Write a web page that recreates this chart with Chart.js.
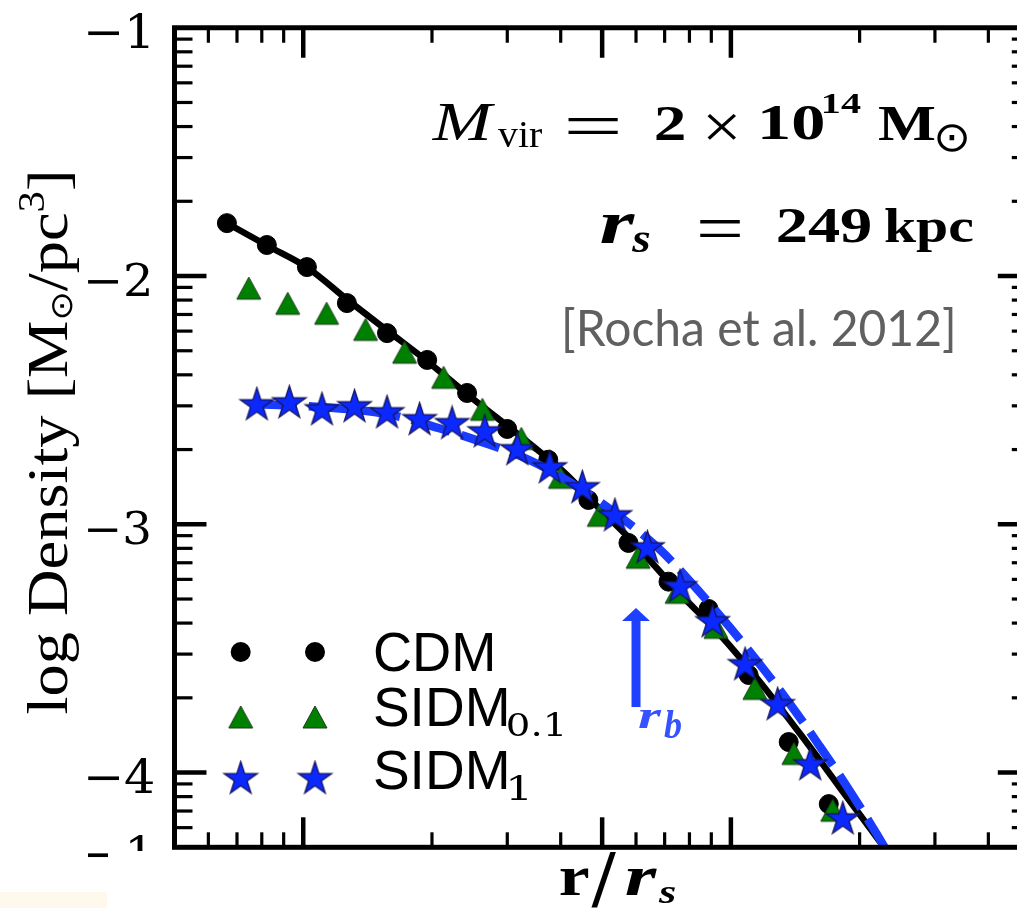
<!DOCTYPE html>
<html>
<head>
<meta charset="utf-8">
<title>log Density vs r/r_s</title>
<script src="https://cdn.jsdelivr.net/npm/chart.js@4.4.1/dist/chart.umd.min.js"></script>
<style>
  html, body { margin: 0; padding: 0; background: #fff; overflow: hidden; }
  #frame { position: relative; width: 1017px; height: 908px; overflow: hidden; background: #fff; }
  #c { display: block; }
</style>
</head>
<body>
<div id="frame"><canvas id="c" width="1060" height="908"></canvas></div>
<script>
// ---- profiles: radius in units of r_s, log10 density in M_sun / pc^3 ----
const cdmR = [0.0663, 0.0822, 0.1020, 0.1265, 0.1570, 0.1949, 0.2416, 0.2999, 0.3741, 0.4642, 0.5760, 0.7147, 0.8867, 1.1003, 1.3651, 1.6938];
const cdmLogRho = [-1.787, -1.875, -1.964, -2.109, -2.230, -2.338, -2.471, -2.616, -2.740, -2.902, -3.075, -3.231, -3.341, -3.607, -3.877, -4.127];

const sidm01R = [0.0746, 0.0920, 0.1134, 0.1399, 0.1726, 0.2129, 0.2624, 0.3236, 0.3993, 0.4921, 0.6068, 0.7485, 0.9228, 1.1381, 1.4039, 1.7304];
const sidm01LogRho = [-2.049, -2.110, -2.150, -2.215, -2.307, -2.408, -2.537, -2.654, -2.811, -2.964, -3.133, -3.274, -3.415, -3.661, -3.923, -4.152];

const sidm1R = [0.0779, 0.0928, 0.1106, 0.1318, 0.1570, 0.1871, 0.2229, 0.2657, 0.3166, 0.3772, 0.4494, 0.5356, 0.6380, 0.7604, 0.9061, 1.0796, 1.2865, 1.5330, 1.8266];
const sidm1LogRho = [-2.520, -2.512, -2.540, -2.528, -2.552, -2.580, -2.596, -2.629, -2.701, -2.774, -2.854, -2.967, -3.096, -3.253, -3.394, -3.567, -3.728, -3.970, -4.188];

// fitted profiles (solid: CDM, dashed: SIDM_1)
const cdmFitR = [0.0663, 0.0827, 0.1026, 0.1272, 0.1579, 0.1959, 0.2430, 0.3377, 0.4123, 0.4847, 0.5886, 0.7584, 0.9408, 1.1672, 1.4725, 1.7972, 2.3532];
const cdmFitLogRho = [-1.787, -1.879, -1.968, -2.097, -2.222, -2.346, -2.479, -2.674, -2.799, -2.924, -3.069, -3.278, -3.443, -3.633, -3.858, -4.060, -4.333];

const sidm1FitR = [0.0779, 0.1106, 0.1570, 0.2079, 0.2579, 0.3377, 0.4350, 0.5485, 0.6808, 0.8134, 0.9930, 1.2122, 1.4252, 1.6135, 1.8664, 2.1942, 2.3532];
const sidm1FitLogRho = [-2.516, -2.528, -2.556, -2.613, -2.665, -2.741, -2.846, -2.967, -3.100, -3.241, -3.414, -3.599, -3.761, -3.894, -4.055, -4.248, -4.337];

// core radius marker
const rB = 0.60;
const rBArrowLogRho = [-3.736, -3.337];

// axes
const xMin = 0.05, xMax = 5;
const xMajorTicks = [0.1, 0.5, 1];
const yMin = Math.log10(5e-5), yMax = -1;
const yTickValues = [-1, -2, -3, -4];
const yTickLabels = ['−1', '−2', '−3', '−4'];

const seriesLabels = ['CDM', 'SIDM', 'SIDM'];
const seriesSubscripts = ['', '0.1', '1'];

const BLUE_LINE = '#1a3cff';
const BLUE_FILL = '#0b28ff';
const GREEN = '#008000';

function pts(xs, ys) { return xs.map((x, i) => ({ x: x, y: ys[i] })); }

function makeStar(R, fill, edge) {
  const s = Math.ceil(2 * R + 4);
  const c = document.createElement('canvas');
  c.width = s; c.height = s;
  const g = c.getContext('2d');
  const cx = s / 2, cy = s / 2, r = R * 0.381966;
  g.beginPath();
  for (let i = 0; i < 10; i++) {
    const ang = -Math.PI / 2 + i * Math.PI / 5;
    const rr = (i % 2) ? r : R;
    g.lineTo(cx + rr * Math.cos(ang), cy + rr * Math.sin(ang));
  }
  g.closePath();
  g.fillStyle = fill; g.fill();
  g.lineWidth = 1.3; g.strokeStyle = edge; g.stroke();
  return c;
}

function makeTriangle(w, h, fill, edge) {
  const s = Math.ceil(Math.max(w, h) + 4);
  const c = document.createElement('canvas');
  c.width = s; c.height = s;
  const g = c.getContext('2d');
  const cx = s / 2, cy = s / 2;
  g.beginPath();
  g.moveTo(cx, cy - h / 2);
  g.lineTo(cx - w / 2, cy + h / 2);
  g.lineTo(cx + w / 2, cy + h / 2);
  g.closePath();
  g.fillStyle = fill; g.fill();
  g.lineWidth = 1; g.strokeStyle = edge; g.stroke();
  return c;
}

// text whose ink box is stretched to a given rectangle
function inkText(ctx, str, font, color, x0, y0, x1, y1) {
  ctx.save();
  ctx.font = font; ctx.textAlign = 'left'; ctx.textBaseline = 'alphabetic';
  const m = ctx.measureText(str);
  const left = -m.actualBoundingBoxLeft, right = m.actualBoundingBoxRight;
  const top = -m.actualBoundingBoxAscent, bottom = m.actualBoundingBoxDescent;
  ctx.translate(x0, y0);
  ctx.scale((x1 - x0) / (right - left), (y1 - y0) / (bottom - top));
  ctx.fillStyle = color;
  ctx.fillText(str, -left, -top);
  ctx.restore();
}

// text scaled to an ink height, left ink edge anchored
function inkTextH(ctx, str, font, color, x0, y0, y1, stretch) {
  ctx.save();
  ctx.font = font; ctx.textAlign = 'left'; ctx.textBaseline = 'alphabetic';
  const m = ctx.measureText(str);
  const left = -m.actualBoundingBoxLeft;
  const top = -m.actualBoundingBoxAscent, bottom = m.actualBoundingBoxDescent;
  const s = (y1 - y0) / (bottom - top);
  ctx.translate(x0, y0);
  ctx.scale(s * (stretch || 1), s);
  ctx.fillStyle = color;
  ctx.fillText(str, -left, -top);
  ctx.restore();
}

const SERIF = '"Liberation Serif", "DejaVu Serif", serif';

const decor = {
  id: 'decor',
  afterDraw(chart) {
    const ctx = chart.ctx;
    const a = chart.chartArea;
    const xs = chart.scales.x, ys = chart.scales.y;
    ctx.save();

    // inward ticks on all four sides
    ctx.strokeStyle = '#000';
    ctx.lineCap = 'butt';
    const seg = (x0, y0, x1, y1, w) => {
      ctx.lineWidth = w; ctx.beginPath(); ctx.moveTo(x0, y0); ctx.lineTo(x1, y1); ctx.stroke();
    };
    for (let n = -2; n <= 0; n++) {
      for (let k = 1; k <= 9; k++) {
        const v = k * Math.pow(10, n);
        if (v <= xMin * 1.001 || v >= xMax * 0.999) continue;
        const px = xs.getPixelForValue(v);
        const major = xMajorTicks.some(t => Math.abs(t - v) / t < 1e-6);
        const L = major ? 30 : 15, w = major ? 4.5 : 3.2;
        seg(px, a.top, px, a.top + L, w);
        seg(px, a.bottom, px, a.bottom - L, w);
      }
    }
    for (let n = -5; n <= -1; n++) {
      for (let k = 1; k <= 9; k++) {
        const v = n + Math.log10(k);
        if (v <= yMin + 1e-4 || v >= yMax - 1e-4) continue;
        const py = ys.getPixelForValue(v);
        const major = k === 1;
        const L = major ? 32 : 18, w = major ? 4.5 : 3.2;
        seg(a.left, py, a.left + L, py, w);
        seg(a.right, py, a.right - L, py, w);
      }
    }

    // frame
    ctx.lineWidth = 5;
    ctx.strokeRect(a.left, a.top, a.right - a.left, a.bottom - a.top);

    // y tick labels
    yTickValues.forEach((v, i) => {
      const py = ys.getPixelForValue(v);
      inkTextH(ctx, yTickLabels[i], '48px "DejaVu Serif"', '#000', 88, py - 14.5, py + 20.3, 1.06);
    });
    // partly hidden label below the frame
    ctx.save();
    ctx.beginPath();
    ctx.rect(0, 0, 1017, 851);
    ctx.rect(0, 851, 108, 7);
    ctx.clip();
    inkTextH(ctx, '−1', '48px "DejaVu Serif"', '#000', 88, 835, 870, 1.06);
    ctx.restore();
    ctx.fillStyle = '#fff8ec';
    ctx.fillRect(0, 892, 107, 16);

    // y axis title
    ctx.save();
    ctx.translate(67, 442);
    ctx.rotate(-Math.PI / 2);
    const tsegs = [
      { t: 'log Density [M', font: '57px ' + SERIF, dy: 0 },
      { t: '⊙', font: '31px "DejaVu Sans"', dy: 5 },
      { t: '/pc', font: '57px ' + SERIF, dy: 0 },
      { t: '3', font: '38px ' + SERIF, dy: -23 },
      { t: ']', font: '57px ' + SERIF, dy: 0 }
    ];
    let W = 0;
    tsegs.forEach(s => { ctx.font = s.font; s.w = ctx.measureText(s.t).width; W += s.w; });
    ctx.scale(545 / W, 1);
    ctx.fillStyle = '#000'; ctx.textBaseline = 'alphabetic'; ctx.textAlign = 'left';
    let cx = -W / 2;
    tsegs.forEach(s => { ctx.font = s.font; ctx.fillText(s.t, cx, s.dy); cx += s.w; });
    ctx.restore();

    // x axis title
    inkText(ctx, 'r', 'bold 60px ' + SERIF, '#000', 560, 868, 589, 895);
    inkText(ctx, '/', 'bold 60px ' + SERIF, '#000', 591, 852, 617, 907);
    inkText(ctx, 'r', 'bold italic 60px ' + SERIF, '#000', 626, 868, 657, 895);
    inkText(ctx, 's', 'bold italic 42px ' + SERIF, '#000', 658, 887, 676, 903);

    // halo parameters
    inkText(ctx, 'M', 'italic 56px ' + SERIF, '#000', 431.5, 103, 496, 140);
    inkText(ctx, 'vir', '40px ' + SERIF, '#000', 498, 123, 542, 147);
    inkText(ctx, '=', '56px ' + SERIF, '#000', 567, 117, 618, 133);
    inkText(ctx, '2', 'bold 56px ' + SERIF, '#000', 656, 105, 684, 140);
    inkText(ctx, '×', '56px ' + SERIF, '#000', 707, 113, 737, 140);
    inkText(ctx, '10', 'bold 56px ' + SERIF, '#000', 762, 105, 823, 140);
    inkText(ctx, '14', 'bold 38px ' + SERIF, '#000', 824, 93, 861, 113);
    inkText(ctx, 'M', 'bold 56px ' + SERIF, '#000', 878, 105, 935, 140);
    inkText(ctx, '⊙', '36px "DejaVu Sans"', '#000', 937, 123, 967, 152);

    inkText(ctx, 'r', 'bold italic 56px ' + SERIF, '#000', 601, 213, 636, 243);
    inkText(ctx, 's', 'bold italic 40px ' + SERIF, '#000', 631, 232, 650, 252);
    inkText(ctx, '=', '56px ' + SERIF, '#000', 699, 219, 740, 236);
    inkText(ctx, '249', 'bold 56px ' + SERIF, '#000', 778, 208, 870, 243);
    inkText(ctx, 'kpc', 'bold 56px ' + SERIF, '#000', 885, 207, 973, 253);

    inkText(ctx, '[Rocha et al. 2012]', '48px Lato', '#606060', 565, 307, 953, 353);

    // core radius arrow
    const ax = xs.getPixelForValue(rB);
    const yTail = ys.getPixelForValue(rBArrowLogRho[0]);
    const yTip = ys.getPixelForValue(rBArrowLogRho[1]);
    ctx.fillStyle = '#1e40ff';
    ctx.fillRect(ax - 4.5, yTip + 11, 9, yTail - yTip - 11);
    ctx.beginPath();
    ctx.moveTo(ax, yTip);
    ctx.lineTo(ax - 14, yTip + 13);
    ctx.lineTo(ax + 14, yTip + 13);
    ctx.closePath();
    ctx.fill();
    inkText(ctx, 'r', 'bold italic 44px ' + SERIF, '#3552ff', 638, 710, 662, 728);
    inkText(ctx, 'b', 'bold italic 32px ' + SERIF, '#3552ff', 664, 711, 682, 738);

    // legend: two markers per entry
    const ds = chart.data.datasets;
    const markerX = [240.7, 315];
    const rows = [
      { set: ds[1], y: 652, tb: [375, 632, 493, 672], sub: null },
      { set: ds[2], y: 717, tb: [375, 687, 507, 727], sub: [508, 712, 562, 737] },
      { set: ds[4], y: 779, tb: [375, 750, 507, 790], sub: [510, 775, 527, 800] }
    ];
    rows.forEach((row, i) => {
      markerX.forEach(mx => {
        const st = row.set.pointStyle;
        if (typeof st === 'object') {
          ctx.drawImage(st, mx - st.width / 2, row.y - st.height / 2);
        } else {
          ctx.beginPath();
          ctx.arc(mx, row.y, 10, 0, Math.PI * 2);
          ctx.fillStyle = '#000';
          ctx.fill();
        }
      });
      inkText(ctx, seriesLabels[i], '52px "Liberation Sans", Arial, sans-serif', '#000', row.tb[0], row.tb[1], row.tb[2], row.tb[3]);
      if (row.sub) {
        inkText(ctx, seriesSubscripts[i], '36px "DejaVu Serif"', '#000', row.sub[0], row.sub[1], row.sub[2], row.sub[3]);
      }
    });

    ctx.restore();
  }
};

function build() {
  const starImg = makeStar(17.5, BLUE_FILL, '#14145a');
  const triImg = makeTriangle(24, 22, GREEN, '#1c3a1c');

  new Chart(document.getElementById('c'), {
    type: 'scatter',
    data: {
      datasets: [
        {
          label: 'CDM fit',
          data: pts(cdmFitR, cdmFitLogRho),
          showLine: true,
          borderColor: '#000',
          borderWidth: 6.5,
          pointRadius: 0,
          cubicInterpolationMode: 'monotone',
          clip: 0,
          order: 4
        },
        {
          label: 'CDM',
          data: pts(cdmR, cdmLogRho),
          pointStyle: 'circle',
          pointRadius: 9.5,
          backgroundColor: '#000',
          borderColor: '#000',
          borderWidth: 1,
          clip: 0,
          order: 5
        },
        {
          label: 'SIDM0.1',
          data: pts(sidm01R, sidm01LogRho),
          pointStyle: triImg,
          pointRadius: 12,
          clip: 0,
          order: 3
        },
        {
          label: 'SIDM1 fit',
          data: pts(sidm1FitR, sidm1FitLogRho),
          showLine: true,
          borderColor: BLUE_LINE,
          borderWidth: 8.5,
          borderDash: [40, 12],
          pointRadius: 0,
          cubicInterpolationMode: 'monotone',
          clip: 0,
          order: 2
        },
        {
          label: 'SIDM1',
          data: pts(sidm1R, sidm1LogRho),
          pointStyle: starImg,
          pointRadius: 16,
          clip: 0,
          order: 1
        }
      ]
    },
    options: {
      responsive: false,
      devicePixelRatio: 1,
      animation: false,
      events: [],
      layout: { padding: { left: 174.5, top: 27.75, right: 30.2, bottom: 60.7 } },
      scales: {
        x: { type: 'logarithmic', min: xMin, max: xMax, display: false },
        y: { type: 'linear', min: yMin, max: yMax, display: false }
      },
      plugins: {
        legend: { display: false },
        tooltip: { enabled: false }
      }
    },
    plugins: [decor]
  });
}

const fontList = [
  '57px "Liberation Serif"', 'bold 56px "Liberation Serif"', 'italic 56px "Liberation Serif"',
  'bold italic 56px "Liberation Serif"', '48px "DejaVu Serif"', '36px "DejaVu Sans"',
  '52px "Liberation Sans"', '48px Lato'
];
Promise.all(fontList.map(f => document.fonts.load(f).catch(() => null))).then(build, build);
</script>
</body>
</html>
